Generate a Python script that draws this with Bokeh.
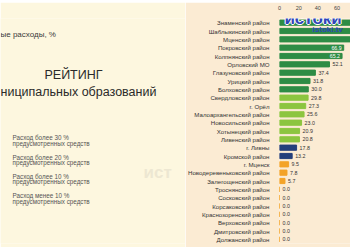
from bokeh.plotting import figure
from bokeh.layouts import row, column
from bokeh.models import (ColumnDataSource, Range1d, FactorRange, LinearAxis,
                          FixedTicker, Label)
from bokeh.core.properties import value
from bokeh.embed import file_html
from bokeh.resources import INLINE

# Rating of municipalities by share of planned funds spent, %
districts = [
    "Знаменский район", "Шаблыкинский район", "Мценский район",
    "Покровский район", "Колпнянский район", "Орловский МО",
    "Глазуновский район", "Урицкий район", "Болховский район",
    "Свердловский район", "г. Орёл", "Малоархангельский район",
    "Новосильский район", "Хотынецкий район", "Ливенский район",
    "г. Ливны", "Кромской район", "г. Мценск",
    "Новодеревеньковский район", "Залегощенский район", "Троснянский район",
    "Сосковский район", "Корсаковский район", "Краснозоренский район",
    "Верховский район", "Дмитровский район", "Должанский район",
]
spent_pct = [
    100.0, 90.0, 78.0,
    66.9, 65.2, 52.1,
    37.4, 31.8, 30.0,
    29.8, 27.3, 25.6,
    23.0, 20.9, 20.8,
    17.8, 13.2, 9.5,
    7.8, 5.7, 0.0,
    0.0, 0.0, 0.0,
    0.0, 0.0, 0.0,
]
axis_ticks = [0, 20, 40, 60]
x_max = 74

legend_lines = [
    ("Расход более 30 %", "предусмотренных средств"),
    ("Расход более 20 %", "предусмотренных средств"),
    ("Расход более 10 %", "предусмотренных средств"),
    ("Расход менее 10 %", "предусмотренных средств"),
]

FONT = "Liberation Sans"
LEFT_BG = "#FDF7DF"
RIGHT_BG = "#FBEBD3"


def band_color(v):
    if v >= 30:
        return "#2E8C45"
    if v >= 20:
        return "#8CC53F"
    if v >= 10:
        return "#243F7B"
    return "#F3A328"


# thin dark strip along the top edge
strip = figure(width=350, height=2, output_backend="svg", toolbar_location=None,
               min_border=0, x_range=Range1d(0, 1), y_range=Range1d(0, 1))
strip.axis.visible = False
strip.grid.visible = False
strip.outline_line_color = None
strip.background_fill_color = "#707070"
strip.border_fill_color = "#707070"

# left side: headings and the spending bands
left = figure(width=185, height=245, output_backend="svg", toolbar_location=None,
              min_border=0, x_range=Range1d(0, 185), y_range=Range1d(247, 2))
left.axis.visible = False
left.grid.visible = False
left.outline_line_color = None
left.background_fill_color = LEFT_BG
left.border_fill_color = LEFT_BG

left.text(x=[143], y=[170], text=["ист"], text_font=value(FONT),
          text_font_size="17px", text_font_style="bold", text_color="#EDE7D2",
          text_baseline="middle", text_align="left")

left.text(x=[0], y=[19], text=["ые расходы, %"], text_font=value(FONT),
          text_font_size="8px", text_color="#3A3A3A", text_baseline="middle")
left.text(x=[73], y=[63], text=["РЕЙТИНГ"], text_font=value(FONT),
          text_font_size="12.5px", text_color="#2A2A2A", text_baseline="middle",
          text_align="center")
left.text(x=[0], y=[82], text=["ниципальных образований"], text_font=value(FONT),
          text_font_size="12.5px", text_color="#2A2A2A", text_baseline="middle",
          text_align="left")

lx, ly = [], []
ltxt = []
for i, (a, b) in enumerate(legend_lines):
    y0 = 132 + i * 21
    lx += [12, 12]
    ly += [y0, y0 + 6]
    ltxt += [a, b]
left.text(x=lx, y=ly, text=ltxt, text_font=value(FONT), text_font_size="6.3px",
          text_color="#555555", text_baseline="middle")

# right side: the bar chart
colors = [band_color(v) for v in spent_pct]
src = ColumnDataSource(dict(name=districts, value=spent_pct, color=colors))

# value labels: outside the bar end, or inside it when there is no room left
fit_limit = 62
out_names = [n for n, v in zip(districts, spent_pct) if v < fit_limit]
out_vals = [v for v in spent_pct if v < fit_limit]
in_names = [n for n, v in zip(districts, spent_pct) if fit_limit <= v < x_max]
in_vals = [v for v in spent_pct if fit_limit <= v < x_max]

right = figure(width=165, height=245, output_backend="svg", toolbar_location=None,
               y_range=FactorRange(*reversed(districts)),
               x_range=Range1d(0, x_max), x_axis_location=None,
               min_border_left=91, min_border_right=0,
               min_border_top=13, min_border_bottom=4)
right.background_fill_color = RIGHT_BG
right.border_fill_color = RIGHT_BG
right.outline_line_color = None
right.grid.visible = False

right.hbar(y="name", right="value", left=0, height=0.62, color="color",
           source=src)
right.text(x=out_vals, y=out_names, text=[f"{v:.1f}" for v in out_vals],
           x_offset=3, text_font=value(FONT), text_font_size="5.3px",
           text_color="#333333", text_baseline="middle", text_align="left")
right.text(x=in_vals, y=in_names, text=[f"{v:.1f}" for v in in_vals],
           x_offset=-2, text_font=value(FONT), text_font_size="5.3px",
           text_color="white", text_baseline="middle", text_align="right")

top_axis = LinearAxis(ticker=FixedTicker(ticks=axis_ticks))
top_axis.axis_line_color = None
top_axis.major_tick_line_color = None
top_axis.minor_tick_line_color = None
top_axis.major_label_text_font = FONT
top_axis.major_label_text_font_size = "5.5px"
top_axis.major_label_text_color = "#444444"
top_axis.major_label_standoff = 3
right.add_layout(top_axis, "above")

yax = right.yaxis[0]
yax.axis_line_color = None
yax.major_tick_line_color = None
yax.minor_tick_line_color = None
yax.major_label_standoff = 4
yax.major_label_text_font = FONT
yax.major_label_text_font_size = "6.1px"
yax.major_label_text_color = "#333333"

# channel logo in the corner
for dx, dy in [(-1, 0), (1, 0), (0, -1), (0, 1)]:
    right.add_layout(Label(x=35, y=225, x_units="data", y_units="screen",
                           x_offset=dx, y_offset=dy, text="истоки",
                           text_font=FONT, text_font_size="17px",
                           text_font_style="bold", text_color="white",
                           text_align="center", text_baseline="middle"))
right.add_layout(Label(x=35, y=225, x_units="data", y_units="screen",
                       text="истоки", text_font=FONT, text_font_size="17px",
                       text_font_style="bold", text_color="#2F45B8",
                       text_align="center", text_baseline="middle"))
right.add_layout(Label(x=50, y=214, x_units="data", y_units="screen",
                       text="istoki.tv", text_font=FONT, text_font_size="8px",
                       text_font_style="bold", text_color="#2F45B8",
                       text_align="center", text_baseline="middle"))

layout = column(strip, row(left, right))
open("out.html", "w").write(file_html(layout, INLINE))
